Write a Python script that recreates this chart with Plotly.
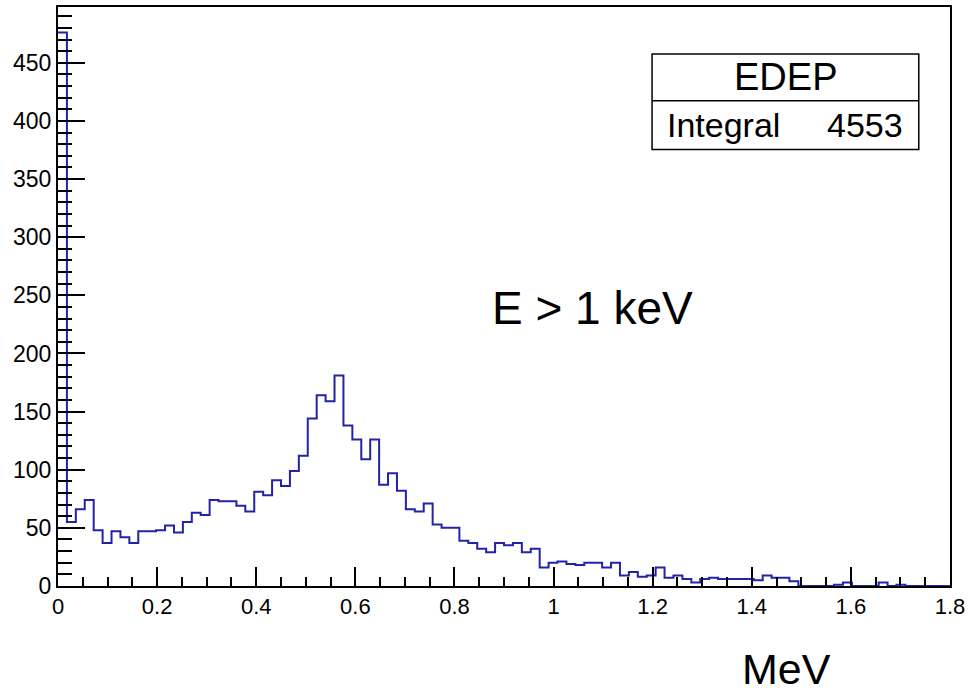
import numpy as np
import plotly.graph_objects as go

# Histogram EDEP: 100 bins from 0 to 1.8 MeV
x_min, x_max, n_bins = 0.0, 1.8, 100
counts = [
    476, 55, 66, 74, 48, 37, 47, 42, 37, 47,
    47, 48, 52, 46, 55, 63, 61, 74, 73, 73,
    69, 64, 81, 78, 91, 86, 99, 112, 144, 164,
    159, 181, 138, 126, 109, 126, 87, 97, 82, 66,
    64, 71, 53, 50, 50, 39, 37, 32, 29, 37,
    35, 37, 29, 32, 16, 20, 21, 19, 18, 20,
    20, 16, 20, 9, 12, 8, 9, 16, 7, 9,
    6, 3, 6, 7, 6, 6, 6, 6, 5, 9,
    7, 7, 4, 0, 0, 0, 0, 1, 3, 0,
    0, 0, 3, 0, 1, 0, 0, 0, 0, 0,
]
x_ticks = [0, 0.2, 0.4, 0.6, 0.8, 1.0, 1.2, 1.4, 1.6, 1.8]
x_ticklabels = ["0", "0.2", "0.4", "0.6", "0.8", "1", "1.2", "1.4", "1.6", "1.8"]
y_ticks = [0, 50, 100, 150, 200, 250, 300, 350, 400, 450]
hist_name = "EDEP"
integral_label = "Integral"
integral_value = "4553"
cut_text = "E > 1 keV"
x_title = "MeV"

edges = np.linspace(x_min, x_max, n_bins + 1)
xs = list(edges)
ys = list(counts) + [counts[-1]]

FONT = "Liberation Sans, Arial, Helvetica, sans-serif"
LINE_COL = "#2323a8"

fig = go.Figure()
fig.add_trace(go.Scatter(
    x=xs, y=ys, mode="lines", line=dict(shape="hv", color=LINE_COL, width=2),
    showlegend=False, hoverinfo="skip",
))

fig.update_layout(
    width=980, height=696,
    margin=dict(l=58, r=30, t=5, b=110),
    paper_bgcolor="white", plot_bgcolor="white",
    font=dict(family=FONT, color="black"),
)

fig.update_xaxes(
    range=[x_min, x_max], showgrid=False, zeroline=False,
    showline=True, linecolor="black", linewidth=2, mirror=True,
    tickmode="array", tickvals=x_ticks, ticktext=x_ticklabels,
    ticks="inside", ticklen=19, tickwidth=1.5, tickcolor="black",
    tickfont=dict(family=FONT, size=22, color="black"),
    minor=dict(dtick=0.05, tick0=0, ticks="inside", ticklen=9, tickwidth=1.5, tickcolor="black"),
)
fig.update_yaxes(
    range=[0, 498], showgrid=False, zeroline=False,
    showline=True, linecolor="black", linewidth=2, mirror=True,
    tickmode="array", tickvals=y_ticks,
    ticks="inside", ticklen=27, tickwidth=1.5, tickcolor="black",
    tickfont=dict(family=FONT, size=23, color="black"),
    minor=dict(dtick=10, tick0=0, ticks="inside", ticklen=14, tickwidth=1.5, tickcolor="black"),
)

# Stats box
bx0, bx1, by0, by1, bmid = 0.666, 0.965, 0.754, 0.919, 0.838
fig.add_shape(type="rect", xref="paper", yref="paper", x0=bx0, x1=bx1, y0=by0, y1=by1,
              line=dict(color="black", width=1.5), fillcolor="white", layer="above")
fig.add_shape(type="line", xref="paper", yref="paper", x0=bx0, x1=bx1, y0=bmid, y1=bmid,
              line=dict(color="black", width=1.5), layer="above")
fig.add_annotation(xref="paper", yref="paper", x=(bx0 + bx1) / 2, y=(bmid + by1) / 2,
                   text=hist_name, showarrow=False, xanchor="center", yanchor="middle",
                   font=dict(family=FONT, size=38, color="black"))
fig.add_annotation(xref="paper", yref="paper", x=0.681, y=(by0 + bmid) / 2,
                   text=integral_label, showarrow=False, xanchor="left", yanchor="middle",
                   font=dict(family=FONT, size=34, color="black"))
fig.add_annotation(xref="paper", yref="paper", x=0.949, y=(by0 + bmid) / 2,
                   text=integral_value, showarrow=False, xanchor="right", yanchor="middle",
                   font=dict(family=FONT, size=34, color="black"))

# Text labels
fig.add_annotation(xref="paper", yref="paper", x=0.484, y=0.48,
                   text=cut_text, showarrow=False, xanchor="left", yanchor="middle",
                   font=dict(family=FONT, size=46, color="black"))
fig.add_annotation(xref="paper", yref="paper", x=0.817, y=-0.143,
                   text=x_title, showarrow=False, xanchor="center", yanchor="middle",
                   font=dict(family=FONT, size=43, color="black"))

fig.write_html("out.html")
